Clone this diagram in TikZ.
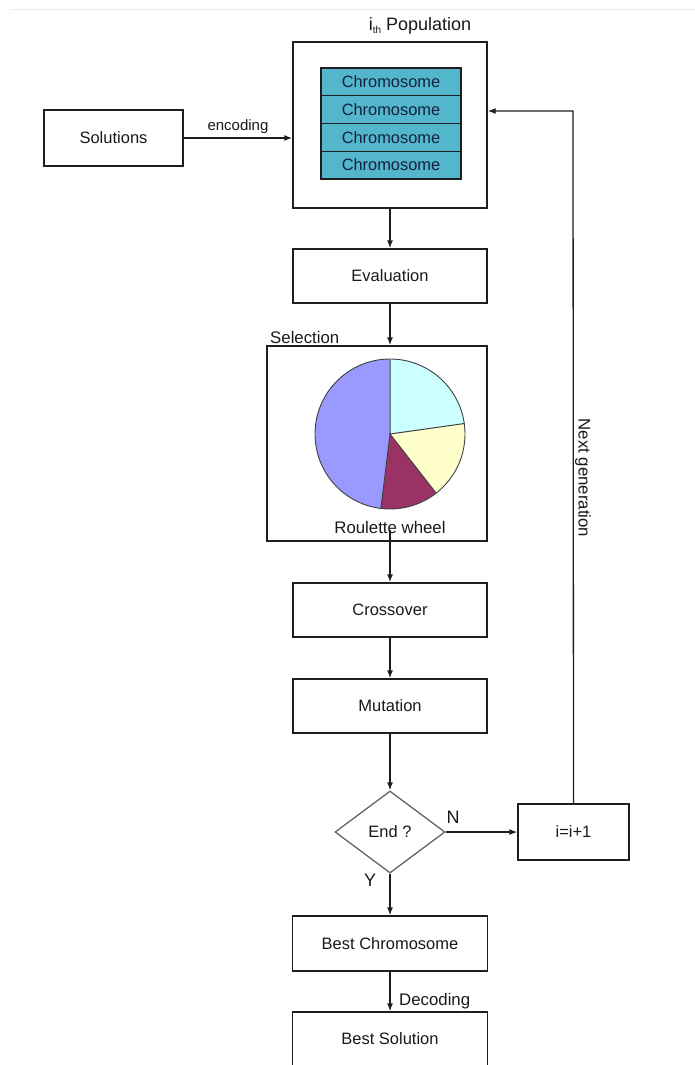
\documentclass[tikz,border=0pt]{standalone}
\usepackage{fontspec}
\setmainfont{Liberation Sans}
\usetikzlibrary{arrows.meta,shapes.geometric}
\definecolor{boxline}{RGB}{30,30,30}
\definecolor{chromo}{RGB}{84,182,204}
\definecolor{chromotext}{RGB}{20,32,60}
\definecolor{pieviolet}{RGB}{153,153,255}
\definecolor{piecyan}{RGB}{204,255,255}
\definecolor{pieyellow}{RGB}{255,255,204}
\definecolor{piemaroon}{RGB}{153,51,102}
\definecolor{diaborder}{RGB}{100,100,100}
\begin{document}
\begin{tikzpicture}[x=1pt,y=-1pt,
  box/.style={draw=boxline,line width=1.3pt,minimum width=194pt,minimum height=54pt,inner sep=0pt,text=black!90,font=\fontsize{16.5}{18}\selectfont},
  chromobox/.style={draw=boxline,line width=1.2pt,fill=chromo,minimum width=140pt,minimum height=27.75pt,inner sep=0pt,text=chromotext,font=\fontsize{16.4}{18}\selectfont},
  lbl/.style={inner sep=0pt,text=black!90,font=\fontsize{16.8}{18}\selectfont},
  arr/.style={-{Latex[length=8pt,width=6pt]},line width=1.3pt,draw=boxline}]
\useasboundingbox (0,0) rectangle (695,1065);
\draw[black!8,line width=1pt] (10,10) -- (695,10);

% population
\node[box,minimum width=194pt,minimum height=166pt] (pop) at (390,125) {};
\node[lbl,font=\fontsize{18}{20}\selectfont] (poplbl) at (420,26) {i\raisebox{-3pt}{\fontsize{10}{10}\selectfont th} Population};
\node[chromobox] (c1) at (391,81.9) {Chromosome};
\node[chromobox] (c2) at (391,109.6) {Chromosome};
\node[chromobox] (c3) at (391,137.4) {Chromosome};
\node[chromobox] (c4) at (391,165.1) {Chromosome};

\node[box,minimum width=139pt,minimum height=56pt] (sol) at (113.5,138) {Solutions};
\node[box] (eval) at (390,276) {Evaluation};
\node[box,minimum width=220pt,minimum height=195pt] (sel) at (377,443.5) {};
\node[lbl,anchor=west] (sellbl) at (270,337) {Selection};
\node[box] (cross) at (390,610) {Crossover};
\node[box] (mut) at (390,706) {Mutation};
\node[draw=diaborder,line width=1.3pt,shape=diamond,minimum width=110pt,minimum height=82pt,inner sep=0pt,text=black!90,font=\fontsize{16.5}{18}\selectfont] (end) at (390,832) {End ?};
\node[box,minimum width=111pt,minimum height=56pt] (inc) at (573.5,832) {i=i+1};
\node[box,minimum width=195pt,minimum height=55pt] (best) at (390,943.5) {Best Chromosome};
\node[box,minimum width=195pt,minimum height=54pt] (bsol) at (390,1039) {Best Solution};

% pie
\begin{scope}[shift={(390,434)},yscale=-1]
  \fill[pieviolet] (0,0) -- (90:75) arc[start angle=90,end angle=263,radius=75] -- cycle;
  \fill[piecyan] (0,0) -- (90:75) arc[start angle=90,end angle=8,radius=75] -- cycle;
  \fill[pieyellow] (0,0) -- (8:75) arc[start angle=8,end angle=-52,radius=75] -- cycle;
  \fill[piemaroon] (0,0) -- (-52:75) arc[start angle=-52,end angle=-97,radius=75] -- cycle;
  \draw[black!75,line width=0.9pt] (0,0) circle[radius=75];
  \draw[black!75,line width=1pt] (90:75) -- (0,0) -- (8:75);
  \draw[black!75,line width=0.9pt] (-52:75) -- (0,0) -- (-97:75);
\end{scope}
\node[lbl] (roul) at (390,527) {Roulette wheel};

% connectors
\draw[arr] (sol.east) -- node[lbl,font=\fontsize{15}{16}\selectfont,above=4pt] (enclbl) {encoding} (pop.west |- sol.east);
\draw[arr] (pop.south) -- (eval.north);
\draw[arr] (eval.south) -- (eval.south |- sel.north);
\coordinate (selout) at (390,530);
\draw[arr] (selout) -- (cross.north);
\draw[arr] (cross.south) -- (mut.north);
\draw[arr] (mut.south) -- (end.north);
\draw[arr] (end.east) -- (inc.west);
\draw[arr] (end.south) -- (best.north);
\draw[arr] (best.south) -- (bsol.north);
\coordinate (fb) at (573,111);
\draw[arr] (inc.north) -- (fb) -- (pop.east |- fb);

\node[lbl,font=\fontsize{18}{20}\selectfont] (nlbl) at (453,817) {N};
\node[lbl,font=\fontsize{18}{20}\selectfont] (ylbl) at (370,880) {Y};
\node[lbl,anchor=west] (declbl) at (399,1001) {Decoding};
\node[lbl,rotate=-90] (nextlbl) at (583,478) {Next generation};
\end{tikzpicture}
\end{document}
